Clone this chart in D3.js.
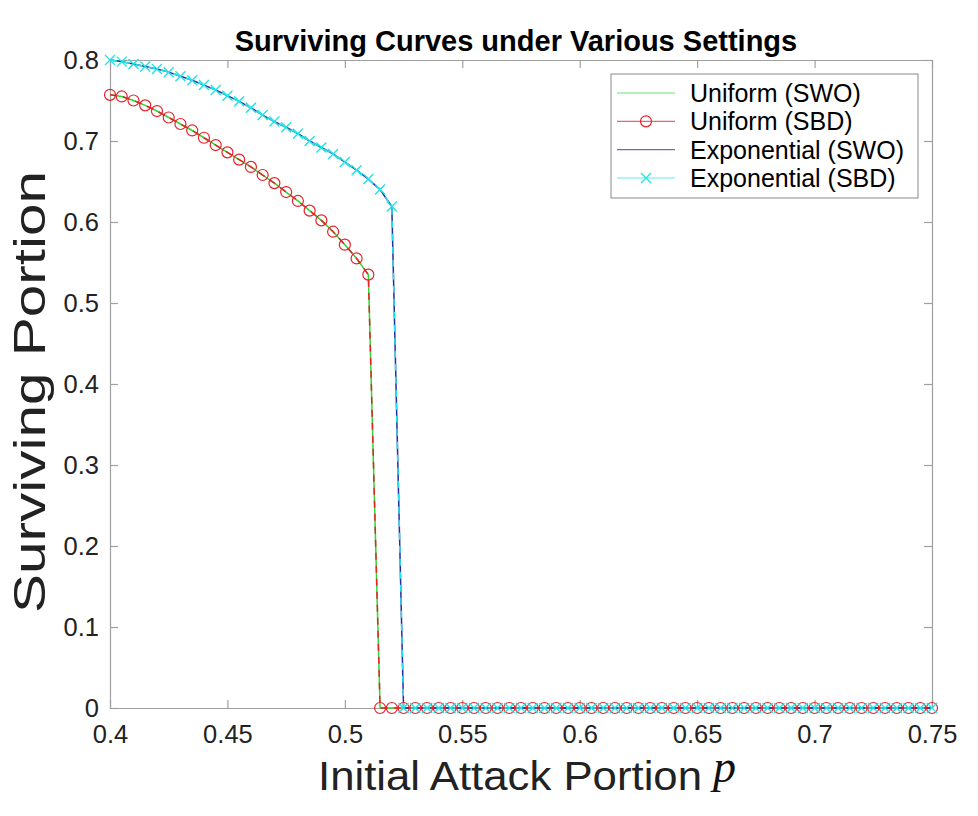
<!DOCTYPE html>
<html>
<head>
<meta charset="utf-8">
<script src="https://cdn.jsdelivr.net/npm/d3@7"></script>
<style>
	body { margin: 0; background: #fff; }
	text { font-family: "Liberation Sans", Arial, sans-serif; }
</style>
</head>
<body>
<div id="chart"></div>
<script>
'use strict';

// attack portion p, step 0.005
var pValues = [
	0.400, 0.405, 0.410, 0.415, 0.420, 0.425, 0.430, 0.435, 0.440, 0.445,
	0.450, 0.455, 0.460, 0.465, 0.470, 0.475, 0.480, 0.485, 0.490, 0.495,
	0.500, 0.505, 0.510, 0.515, 0.520, 0.525, 0.530, 0.535, 0.540, 0.545,
	0.550, 0.555, 0.560, 0.565, 0.570, 0.575, 0.580, 0.585, 0.590, 0.595,
	0.600, 0.605, 0.610, 0.615, 0.620, 0.625, 0.630, 0.635, 0.640, 0.645,
	0.650, 0.655, 0.660, 0.665, 0.670, 0.675, 0.680, 0.685, 0.690, 0.695,
	0.700, 0.705, 0.710, 0.715, 0.720, 0.725, 0.730, 0.735, 0.740, 0.745,
	0.750
];

var uniformSBD = [
	0.757, 0.755, 0.750, 0.744, 0.737, 0.729, 0.721, 0.713, 0.704, 0.695,
	0.686, 0.677, 0.668, 0.658, 0.648, 0.637, 0.626, 0.614, 0.602, 0.588,
	0.572, 0.555, 0.535, 0, 0, 0, 0, 0, 0, 0,
	0, 0, 0, 0, 0, 0, 0, 0, 0, 0,
	0, 0, 0, 0, 0, 0, 0, 0, 0, 0,
	0, 0, 0, 0, 0, 0, 0, 0, 0, 0,
	0, 0, 0, 0, 0, 0, 0, 0, 0, 0,
	0
];

var exponentialSBD = [
	0.800, 0.798, 0.795, 0.792, 0.789, 0.785, 0.780, 0.775, 0.769, 0.763,
	0.756, 0.749, 0.741, 0.732, 0.724, 0.717, 0.709, 0.700, 0.692, 0.684,
	0.674, 0.664, 0.653, 0.640, 0.619, 0, 0, 0, 0, 0,
	0, 0, 0, 0, 0, 0, 0, 0, 0, 0,
	0, 0, 0, 0, 0, 0, 0, 0, 0, 0,
	0, 0, 0, 0, 0, 0, 0, 0, 0, 0,
	0, 0, 0, 0, 0, 0, 0, 0, 0, 0,
	0
];

// SWO curves lie exactly on top of the SBD ones
var uniformSWO = uniformSBD;
var exponentialSWO = exponentialSBD;

var seriesNames = ["Uniform (SWO)", "Uniform (SBD)", "Exponential (SWO)", "Exponential (SBD)"];
var xTicks = [0.4, 0.45, 0.5, 0.55, 0.6, 0.65, 0.7, 0.75];
var yTicks = [0, 0.1, 0.2, 0.3, 0.4, 0.5, 0.6, 0.7, 0.8];

var series = [
	{name: seriesNames[0], values: uniformSWO, color: "#2fd82f", dash: null, marker: null},
	{name: seriesNames[1], values: uniformSBD, color: "#e8202a", dash: "7,6", marker: "circle"},
	{name: seriesNames[2], values: exponentialSWO, color: "#2a2aa8", dash: null, marker: null},
	{name: seriesNames[3], values: exponentialSBD, color: "#22e4e4", dash: "7,6", marker: "cross"}
];

var width = 978, height = 816;
var plotLeft = 110, plotRight = 932, plotTop = 60, plotBottom = 708;
var axisColor = "#a0a0a0", labelColor = "#222";

var svg = d3.select("#chart").append("svg")
	.attr("width", width)
	.attr("height", height);

svg.append("rect").attr("width", width).attr("height", height).attr("fill", "#fff");

var x = d3.scaleLinear().domain([0.4, 0.75]).range([plotLeft, plotRight]);
var y = d3.scaleLinear().domain([0, 0.8]).range([plotBottom, plotTop]);
var fmt = function(d){ return String(+d.toFixed(2)); };

// axes, MATLAB style box with inward ticks
var tickLen = 8;
function styleAxis(g){
	g.select(".domain").attr("stroke", axisColor).attr("stroke-width", 1.2);
	g.selectAll(".tick line").attr("stroke", axisColor).attr("stroke-width", 1.2);
	g.selectAll(".tick text").attr("fill", labelColor)
		.style("font-family", '"Liberation Sans", Arial, sans-serif')
		.style("font-size", "25.5px");
}

svg.append("g")
	.attr("transform", "translate(0," + plotBottom + ")")
	.call(d3.axisBottom(x).tickValues(xTicks).tickFormat(fmt).tickSizeInner(-tickLen).tickSizeOuter(0).tickPadding(17))
	.call(styleAxis);
svg.append("g")
	.attr("transform", "translate(0," + plotTop + ")")
	.call(d3.axisTop(x).tickValues(xTicks).tickFormat("").tickSizeInner(-tickLen).tickSizeOuter(0))
	.call(styleAxis);
svg.append("g")
	.attr("transform", "translate(" + plotLeft + ",0)")
	.call(d3.axisLeft(y).tickValues(yTicks).tickFormat(fmt).tickSizeInner(-tickLen).tickSizeOuter(0).tickPadding(11))
	.call(styleAxis);
svg.append("g")
	.attr("transform", "translate(" + plotRight + ",0)")
	.call(d3.axisRight(y).tickValues(yTicks).tickFormat("").tickSizeInner(-tickLen).tickSizeOuter(0))
	.call(styleAxis);

// curves
var line = d3.line()
	.x(function(d, i){ return x(pValues[i]); })
	.y(function(d){ return y(d); });

series.forEach(function(s){
	svg.append("path")
		.attr("d", line(s.values))
		.attr("fill", "none")
		.attr("stroke", s.color)
		.attr("stroke-width", 1.5)
		.attr("stroke-dasharray", s.dash);
});

function drawMarker(g, type, cx, cy, color){
	if(type == "circle"){
		g.append("circle")
			.attr("cx", cx).attr("cy", cy).attr("r", 5.5)
			.attr("fill", "none").attr("stroke", color).attr("stroke-width", 1.2);
	}
	if(type == "cross"){
		var h = 5;
		g.append("path")
			.attr("d", "M" + (cx - h) + "," + (cy - h) + "L" + (cx + h) + "," + (cy + h) +
				"M" + (cx - h) + "," + (cy + h) + "L" + (cx + h) + "," + (cy - h))
			.attr("stroke", color).attr("stroke-width", 1.4);
	}
}

series.forEach(function(s){
	if(!s.marker) return;
	var g = svg.append("g");
	s.values.forEach(function(v, i){
		drawMarker(g, s.marker, x(pValues[i]), y(v), s.color);
	});
});

// title and axis labels
svg.append("text")
	.attr("x", 516).attr("y", 51)
	.attr("text-anchor", "middle")
	.style("font-size", "29px").style("font-weight", "bold")
	.attr("fill", "#000")
	.text("Surviving Curves under Various Settings");

svg.append("text")
	.attr("x", 318).attr("y", 790)
	.attr("textLength", 384).attr("lengthAdjust", "spacingAndGlyphs")
	.style("font-size", "40px")
	.attr("fill", labelColor)
	.text("Initial Attack Portion");
svg.append("text")
	.attr("x", 713).attr("y", 782)
	.style("font-size", "46px").style("font-style", "italic")
	.style("font-family", '"Liberation Serif", "DejaVu Serif", serif')
	.attr("fill", "#111")
	.text("p");

svg.append("text")
	.attr("transform", "translate(45," + 613 + ") rotate(-90)")
	.attr("textLength", 442).attr("lengthAdjust", "spacingAndGlyphs")
	.style("font-size", "45px")
	.attr("fill", labelColor)
	.text("Surviving Portion");

// legend
var legend = svg.append("g");
legend.append("rect")
	.attr("x", 611).attr("y", 74).attr("width", 307).attr("height", 124)
	.attr("fill", "#fff").attr("stroke", "#8a8a8a").attr("stroke-width", 1);

var rowY = d3.scalePoint().domain(seriesNames).range([93, 178]);
series.forEach(function(s){
	var cy = rowY(s.name);
	legend.append("line")
		.attr("x1", 617).attr("x2", 675).attr("y1", cy).attr("y2", cy)
		.attr("stroke", s.color).attr("stroke-width", 1.2).attr("opacity", 0.7);
	if(s.marker){
		drawMarker(legend, s.marker, 646, cy, s.color);
	}
	legend.append("text")
		.attr("x", 690).attr("y", cy + 9)
		.style("font-size", "25px")
		.attr("fill", "#000")
		.text(s.name);
});
</script>
</body>
</html>
